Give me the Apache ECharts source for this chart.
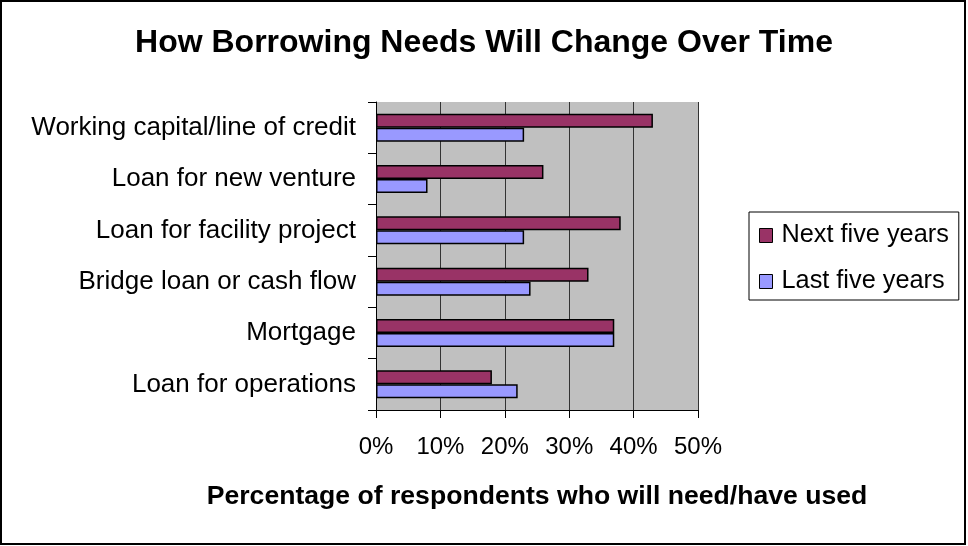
<!DOCTYPE html>
<html>
<head>
<meta charset="utf-8">
<script src="https://cdn.jsdelivr.net/npm/echarts@6/dist/echarts.min.js"></script>
<style>
  html, body { margin: 0; padding: 0; background: #fff; }
  #chart { width: 968px; height: 546px; }
</style>
</head>
<body>
<div id="chart"></div>
<script>
// Loan types, listed top to bottom
const categories = [
  'Working capital/line of credit',
  'Loan for new venture',
  'Loan for facility project',
  'Bridge loan or cash flow',
  'Mortgage',
  'Loan for operations'
];
// Percent of respondents
const nextFiveYears = [43, 26, 38, 33, 37, 18];
const lastFiveYears = [23, 8, 23, 24, 37, 22];
const seriesNames = ['Next five years', 'Last five years'];
const xTicks = [0, 10, 20, 30, 40, 50];

const FONT = 'Liberation Sans, Arial, sans-serif';
const chart = echarts.init(document.getElementById('chart'), null, { renderer: 'canvas' });

chart.setOption({
  backgroundColor: '#ffffff',
  animation: false,
  title: {
    text: 'How Borrowing Needs Will Change Over Time',
    left: 'center',
    top: 22,
    textStyle: { fontFamily: FONT, fontSize: 32, fontWeight: 'bold', color: '#000' }
  },
  legend: {
    orient: 'vertical',
    left: 749,
    top: 212,
    padding: [11, 10, 6, 10],
    itemGap: 21,
    itemWidth: 13,
    itemHeight: 14,
    borderColor: '#000',
    borderWidth: 1,
    icon: 'rect',
    data: seriesNames,
    itemStyle: { borderColor: '#000', borderWidth: 1 },
    textStyle: { fontFamily: FONT, fontSize: 25.3, color: '#000', padding: [0, 0, 0, 4] }
  },
  grid: {
    left: 376,
    right: 270,
    top: 102,
    bottom: 136,
    show: true,
    backgroundColor: '#C0C0C0',
    borderWidth: 0
  },
  xAxis: {
    type: 'value',
    min: xTicks[0],
    max: xTicks[xTicks.length - 1],
    interval: 10,
    name: 'Percentage of respondents who will need/have used',
    nameLocation: 'middle',
    nameGap: 73,
    nameTextStyle: { fontFamily: FONT, fontSize: 26.6, fontWeight: 'bold', color: '#000' },
    axisLine: { show: true, lineStyle: { color: '#000', width: 1 } },
    axisTick: { show: true, length: 8, lineStyle: { color: '#000' } },
    axisLabel: {
      margin: 25,
      fontFamily: FONT,
      fontSize: 24,
      color: '#000',
      formatter: v => v + '%'
    },
    splitLine: { show: true, lineStyle: { color: '#333', width: 1 } }
  },
  yAxis: {
    type: 'category',
    inverse: true,
    data: categories,
    axisLine: { show: true, lineStyle: { color: '#000', width: 1 } },
    axisTick: { show: true, length: 8, lineStyle: { color: '#000' } },
    axisLabel: { margin: 20, fontFamily: FONT, fontSize: 26, color: '#000' },
    splitLine: { show: false }
  },
  series: [
    {
      name: seriesNames[0],
      type: 'bar',
      data: nextFiveYears,
      barWidth: 14,
      barGap: '0%',
      itemStyle: { color: '#993366', borderColor: '#000', borderWidth: 1.5 }
    },
    {
      name: seriesNames[1],
      type: 'bar',
      data: lastFiveYears,
      barWidth: 14,
      barGap: '0%',
      itemStyle: { color: '#9999FF', borderColor: '#000', borderWidth: 1.5 }
    }
  ],
  graphic: [
    {
      type: 'rect',
      shape: { x: 1, y: 1, width: 964, height: 543 },
      style: { fill: null, stroke: '#000', lineWidth: 2 },
      silent: true
    }
  ]
});
</script>
</body>
</html>
